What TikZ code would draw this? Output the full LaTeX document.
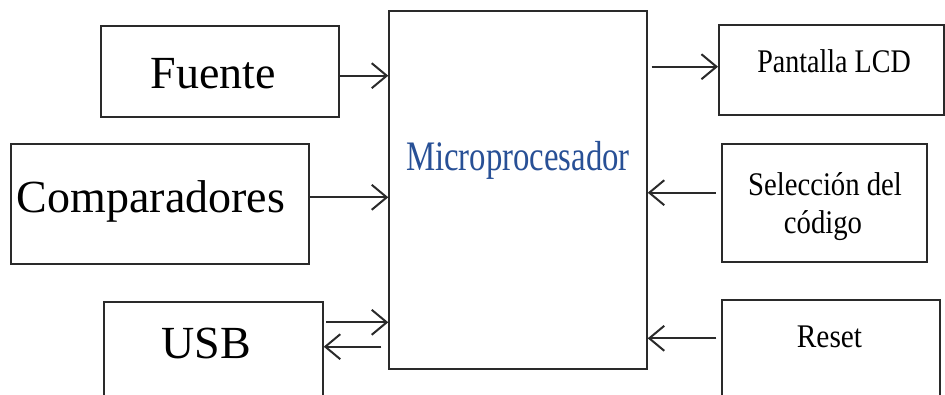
\documentclass[tikz,border=0pt]{standalone}
\usepackage{fontspec}
\setmainfont{Liberation Serif}
\usepackage{graphicx}
\usetikzlibrary{arrows.meta}
\definecolor{ln}{HTML}{2A2A2A}
\definecolor{mpblue}{RGB}{40,80,150}
\tikzset{
  blk/.style={draw=ln, line width=2pt, rectangle, inner sep=0pt},
  big/.style={anchor=base, inner sep=0pt, font=\fontsize{46}{50}\selectfont},
  small/.style={anchor=base, inner sep=0pt, font=\fontsize{33}{38}\selectfont},
  conn/.style={draw=ln, line width=2pt, -{Straight Barb[length=15pt,width=25pt,line width=2pt]}}
}
\begin{document}
\begin{tikzpicture}[x=1pt,y=-1pt]
\clip (0,0) rectangle (945,394);
\fill[white] (0,0) rectangle (945,394);
% boxes
\node[blk, minimum width=238.3pt, minimum height=91pt] (fuente) at (220,71.2) {};
\node[blk, minimum width=298.6pt, minimum height=120pt] (comp) at (160,204) {};
\node[blk, minimum width=218.4pt, minimum height=117.4pt] (usb) at (213.5,361) {};
\node[blk, minimum width=257.4pt, minimum height=358.6pt] (micro) at (518,190) {};
\node[blk, minimum width=225pt, minimum height=90pt] (lcd) at (831.5,70) {};
\node[blk, minimum width=205.6pt, minimum height=118.3pt] (sel) at (824.5,203.2) {};
\node[blk, minimum width=217.7pt, minimum height=120pt] (reset) at (831.2,360) {};
% texts
\node[big] (tfuente) at (213.5,88) {Fuente};
\node[big] (tcomp) at (151,212) {Comparadores};
\node[big] (tusb) at (206,358) {USB};
\node[anchor=base, inner sep=0pt, text=mpblue, font=\fontsize{42}{46}\selectfont] (tmicro) at (518,170) {\scalebox{0.78}[1]{Microprocesador}};
\node[small] (tlcd) at (834,72) {\scalebox{0.85}[1]{Pantalla LCD}};
\node[small] (tsel1) at (825,195) {\scalebox{0.87}[1]{Selección del}};
\node[small] (tsel2) at (823,233) {\scalebox{0.87}[1]{código}};
\node[small] (treset) at (829.5,347) {\scalebox{0.89}[1]{Reset}};
% connectors
\draw[conn] ([yshift=-4.5pt]fuente.east) -- ([yshift=-4.5pt]fuente.east -| micro.west);
\draw[conn] ([yshift=6.7pt]comp.east) -- ([yshift=6.7pt]comp.east -| micro.west);
\draw[conn] ([yshift=38.7pt,xshift=2.5pt]usb.east) -- ([yshift=38.7pt]usb.east -| micro.west);
\draw[conn] ([yshift=14.3pt,xshift=-7pt]usb.east -| micro.west) -- ([yshift=14.3pt]usb.east);
\draw[conn] ([yshift=3.3pt,xshift=4pt]micro.east |- lcd.west) -- ([yshift=3.3pt]lcd.west);
\draw[conn] ([yshift=10.5pt,xshift=-5pt]sel.west) -- ([yshift=10.5pt]sel.west -| micro.east);
\draw[conn] ([yshift=21.7pt,xshift=-5pt]reset.west) -- ([yshift=21.7pt]reset.west -| micro.east);
\end{tikzpicture}
\end{document}
